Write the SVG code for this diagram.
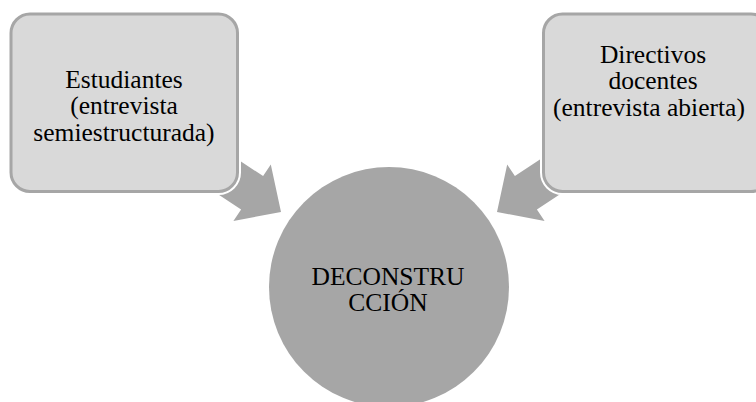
<svg xmlns="http://www.w3.org/2000/svg" width="756" height="402" viewBox="0 0 756 402">
  <style>
    .arrow { fill: #a6a6a6; }
    .halo { fill: none; stroke: #ffffff; stroke-width: 7; }
    .box { fill: #d9d9d9; stroke: #a6a6a6; stroke-width: 3; }
    .hub { fill: #a6a6a6; }
    text { font-size: 25.5px; fill: #000000; text-anchor: middle; }
  </style>

  <!-- connectors: block arrows pointing into the hub -->
  <g id="connectors">
    <polygon class="arrow" points="213.1,143 263.1,176.1 270.8,164.6 281,212 233.4,221 241.1,209.5 191.1,176.4"/>
    <polygon class="arrow" points="564.9,143 514.9,176.1 507.2,164.6 497,212 544.6,221 536.9,209.5 586.9,176.4"/>
  </g>

  <!-- left source node -->
  <g id="node-estudiantes" font-family="Liberation Serif, DejaVu Serif, serif">
    <rect class="halo" x="11" y="14" width="226.5" height="177.5" rx="19" ry="19"/>
    <rect class="box" x="11" y="14" width="226.5" height="177.5" rx="19" ry="19"/>
    <text x="124" y="87.5">Estudiantes</text>
    <text x="124" y="114">(entrevista</text>
    <text x="124" y="140.5">semiestructurada)</text>
  </g>

  <!-- right source node (runs past the right edge) -->
  <g id="node-directivos" font-family="Liberation Serif, DejaVu Serif, serif">
    <rect class="halo" x="543.5" y="14" width="226.5" height="177.5" rx="19" ry="19"/>
    <rect class="box" x="543.5" y="14" width="226.5" height="177.5" rx="19" ry="19"/>
    <text x="653" y="62.5">Directivos</text>
    <text x="653" y="89">docentes</text>
    <text x="649" y="115.5">(entrevista abierta)</text>
  </g>

  <!-- central hub -->
  <g id="node-deconstruccion" font-family="Liberation Serif, DejaVu Serif, serif">
    <circle class="hub" cx="389" cy="287" r="120"/>
    <text x="388" y="284.5">DECONSTRU</text>
    <text x="388" y="311">CCIÓN</text>
  </g>
</svg>
